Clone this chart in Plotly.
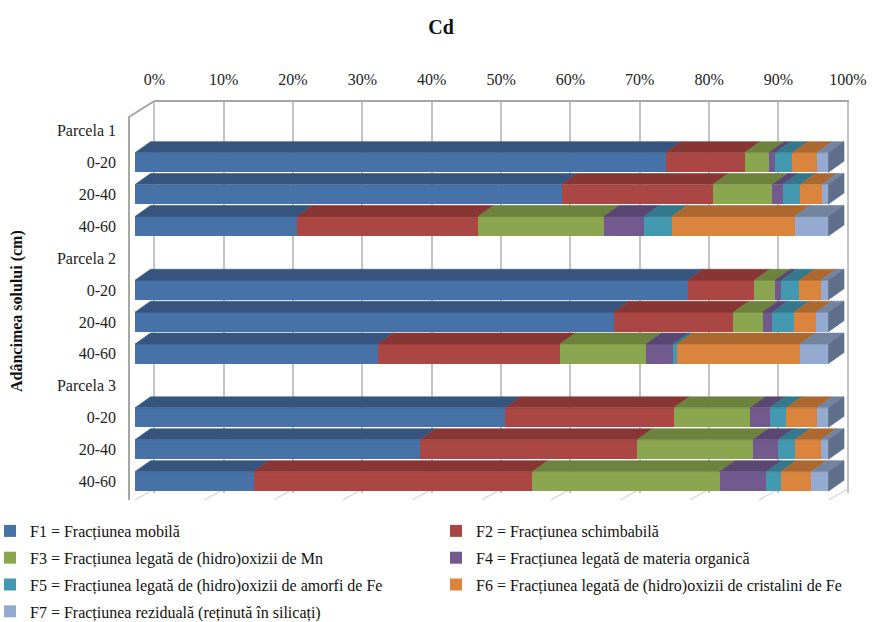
import plotly.graph_objects as go

# ---------------------------------------------------------------- data
# Rows of the chart, top to bottom (plot headers + soil depth intervals)
categories = ["Parcela 1", "0-20", "20-40", "40-60",
              "Parcela 2", "0-20", "20-40", "40-60",
              "Parcela 3", "0-20", "20-40", "40-60"]

fraction_names = [
    "F1 = Fracțiunea mobilă",
    "F2 = Fracțiunea schimbabilă",
    "F3 = Fracțiunea legată de (hidro)oxizii de Mn",
    "F4 = Fracțiunea legată de materia organică",
    "F5 = Fracțiunea legată de (hidro)oxizii de amorfi de Fe",
    "F6 = Fracțiunea legată de (hidro)oxizii de cristalini de Fe",
    "F7 = Fracțiunea reziduală (reținută în silicați)",
]

# Share of Cd (%) in each fraction, one value per depth row
# (P1 0-20, 20-40, 40-60, P2 0-20, 20-40, 40-60, P3 0-20, 20-40, 40-60)
F1 = [76.5, 61.5, 23.4, 79.7, 69.0, 35.0, 53.4, 41.1, 17.1]
F2 = [11.4, 21.8, 26.1, 9.6, 17.3, 26.3, 24.3, 31.3, 40.2]
F3 = [3.5, 8.6, 18.1, 3.0, 4.2, 12.4, 11.0, 16.7, 27.0]
F4 = [0.9, 1.5, 5.8, 0.9, 1.4, 3.9, 2.8, 3.6, 6.7]
F5 = [2.5, 2.5, 4.0, 2.6, 3.1, 0.6, 2.4, 2.4, 2.1]
F6 = [3.5, 3.1, 17.7, 3.1, 3.2, 17.7, 4.4, 3.8, 4.4]
F7 = [1.7, 1.0, 4.9, 1.1, 1.8, 4.1, 1.7, 1.1, 2.5]

x_tick_values = [0, 10, 20, 30, 40, 50, 60, 70, 80, 90, 100]
x_tick_labels = ["0%", "10%", "20%", "30%", "40%", "50%",
                 "60%", "70%", "80%", "90%", "100%"]

# ---------------------------------------------------------------- styles
front_colors = ["#4672A8", "#AA4644", "#8AA64F", "#725A8F",
                "#4299B0", "#DB843D", "#94AAD0"]
top_colors = ["#35557F", "#873634", "#6C823D", "#5A4672",
              "#33788B", "#AD6830", "#72849F"]
side_color = "#5F6F8A"
GRID = "#C4C4C4"
SERIF = "Liberation Serif, Times New Roman, serif"

# ---------------------------------------------------------------- geometry (px)
W, H = 882, 622
PL, PR, PT, PB = 129, 860, 101, 493          # plot area
FRONT0, FRONT100 = 135.0, 828.5              # front face of the bars
WALL_SHIFT = 19.3                            # back wall behind the bars
ROW0, PITCH = 130.5, 31.9                    # first row centre, row step
FACE_H = 19.5                                # front face height
DEPTH_X, DEPTH_Y = 15.5, 11.0                # bar depth offset
FLOOR_FRONT, FLOOR_BACK = 500.0, 489.0

sx = (FRONT100 - FRONT0) / 100.0
x_range = [(PL - FRONT0) / sx, (PR - FRONT0) / sx]
y_range = [(PB - ROW0) / PITCH, (PT - ROW0) / PITCH]
wall = WALL_SHIFT / sx                       # wall offset in axis units
BACK0, BACK100 = FRONT0 + WALL_SHIFT, FRONT100 + WALL_SHIFT


def paper(xp, yp):
    return (xp - PL) / (PR - PL), (PB - yp) / (PB - PT)


series = [F1, F2, F3, F4, F5, F6, F7]
rows = [i for i, c in enumerate(categories) if not c.startswith("Parcela")]
totals = [sum(s[j] for s in series) for j in range(len(rows))]
shares = [[100.0 * s[j] / totals[j] for j in range(len(rows))] for s in series]

half = FACE_H / 2 / PITCH
dxd = DEPTH_X / sx
dyd = DEPTH_Y / PITCH

fig = go.Figure()

# front faces: 100 % stacked horizontal bars
for i, vals in enumerate(shares):
    fig.add_trace(go.Bar(
        x=vals, y=rows, orientation="h", width=FACE_H / PITCH,
        name=fraction_names[i], legendgroup=f"f{i}",
        legend="legend" if i % 2 == 0 else "legend2",
        marker=dict(color=front_colors[i], line=dict(width=0)),
        hoverinfo="name+x",
    ))

# top faces (and the right end face) of every stacked segment
starts = [0.0] * len(rows)
for i, vals in enumerate(shares):
    xs, ys = [], []
    for j, r in enumerate(rows):
        s, e = starts[j], starts[j] + vals[j]
        yt = r - half
        xs += [s, e, e + dxd, s + dxd, s, None]
        ys += [yt, yt, yt - dyd, yt - dyd, yt, None]
        starts[j] = e
    fig.add_trace(go.Scatter(
        x=xs, y=ys, mode="lines", fill="toself", fillcolor=top_colors[i],
        line=dict(width=0.6, color=top_colors[i]), legendgroup=f"f{i}",
        showlegend=False, hoverinfo="skip",
    ))

xs, ys = [], []
for j, r in enumerate(rows):
    e = starts[j]
    yt, yb = r - half, r + half
    xs += [e, e, e + dxd, e + dxd, e, None]
    ys += [yt, yb, yb - dyd, yt - dyd, yt, None]
fig.add_trace(go.Scatter(
    x=xs, y=ys, mode="lines", fill="toself", fillcolor=side_color,
    line=dict(width=0.6, color=side_color), legendgroup="f6",
    showlegend=False, hoverinfo="skip",
))

# walls and floor outline
shapes = []
for t in x_tick_values:
    fx = FRONT0 + t * sx
    bx = BACK0 + t * sx
    a = paper(fx, FLOOR_FRONT)
    b = paper(bx, FLOOR_BACK)
    shapes.append(dict(type="line", xref="paper", yref="paper",
                       x0=a[0], y0=a[1], x1=b[0], y1=b[1],
                       line=dict(color="#D4D4D4", width=1.2), layer="below"))
x0, y0 = paper(BACK0, PT)
x1, y1 = paper(BACK100 + 1, PT)
shapes.append(dict(type="line", xref="paper", yref="paper", x0=x0, y0=y0,
                   x1=x1, y1=y1, line=dict(color="#A6A6A6", width=2),
                   layer="above"))
pts = [paper(BACK0, PT), paper(PL, PT + 16), paper(PL, FLOOR_FRONT)]
path = "M{},{} L{},{} L{},{}".format(*[c for p in pts for c in p])
shapes.append(dict(type="path", xref="paper", yref="paper", path=path,
                   line=dict(color="#A6A6A6", width=2), layer="above"))

ax, ay = paper(17, 311)
annotations = [dict(
    text="<b>Adâncimea solului (cm)</b>", textangle=-90, xref="paper",
    yref="paper", x=ax, y=ay, xanchor="center", yanchor="middle",
    showarrow=False, font=dict(family=SERIF, size=16, color="#111"),
)]

lx1, ly = paper(-10, 514)
lx2, _ = paper(436, 514)
legend_common = dict(
    orientation="v", xanchor="left", yanchor="top", y=ly,
    bgcolor="rgba(0,0,0,0)", borderwidth=0, tracegroupgap=3,
    itemclick="toggle", font=dict(family=SERIF, size=16, color="#111"),
)

fig.update_layout(
    width=W, height=H,
    margin=dict(l=PL, r=W - PR, t=PT, b=H - PB, pad=0, autoexpand=False),
    paper_bgcolor="white", plot_bgcolor="white",
    barmode="stack", bargap=0,
    title=dict(text="<b>Cd</b>", x=0.5, xref="container", xanchor="center",
               y=1 - 27 / H, yanchor="middle",
               font=dict(family=SERIF, size=20, color="#111")),
    # percentage grid sits on the back wall, one depth step behind the bars
    xaxis=dict(range=x_range, side="top",
               tickvals=[t + wall for t in x_tick_values],
               ticktext=x_tick_labels, showgrid=True, gridcolor=GRID,
               gridwidth=1.5, zeroline=False, showline=False, ticks="",
               ticklabelstandoff=12, automargin=False, layer="below traces",
               tickfont=dict(family=SERIF, size=16, color="#222")),
    yaxis=dict(range=y_range, tickvals=list(range(len(categories))),
               ticktext=categories, showgrid=False, zeroline=False,
               showline=False, ticks="", ticklabelstandoff=12,
               automargin=False,
               tickfont=dict(family=SERIF, size=16, color="#222")),
    legend=dict(x=lx1, **legend_common),
    legend2=dict(x=lx2, **legend_common),
    shapes=shapes, annotations=annotations,
)

fig.write_html("out.html")
